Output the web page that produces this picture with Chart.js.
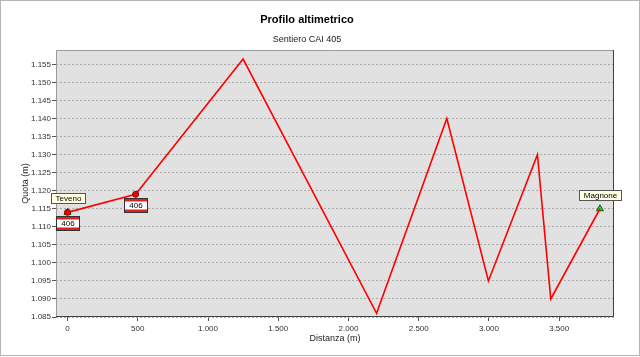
<!DOCTYPE html>
<html>
<head>
<meta charset="utf-8">
<script src="https://cdn.jsdelivr.net/npm/chart.js@4/dist/chart.umd.min.js"></script>
<style>
  html, body { margin: 0; padding: 0; background: #fff; }
  #wrap { width: 640px; height: 357px; position: relative; }
</style>
</head>
<body>
<div id="wrap"><canvas id="chartProfilo"></canvas></div>
<script>
// dati del profilo (distanza in m, quota in m)
const distanze = [0, 485, 1250, 2200, 2700, 2996, 3345, 3440, 3790];
const quote = [1114, 1119, 1156.5, 1086, 1140, 1095, 1130, 1090, 1115];
const tickDistanza = [0, 500, 1000, 1500, 2000, 2500, 3000, 3500];
const tickQuota = [1085, 1090, 1095, 1100, 1105, 1110, 1115, 1120, 1125, 1130, 1135, 1140, 1145, 1150, 1155];
// etichette località e segnavia
const localita = [{ idx: 0, nome: "Teveno" }, { idx: 8, nome: "Magnone" }];
const segnavia = [{ idx: 0, numero: "406" }, { idx: 1, numero: "406" }];

const fmt = (v) => String(v).replace(/\B(?=(\d{3})+(?!\d))/g, ".");
const FONT = "'Liberation Sans', Arial, sans-serif";

const punti = distanze.map((d, i) => ({ x: d, y: quote[i] }));
const triangoli = [0, 8].map((i) => ({ x: distanze[i], y: quote[i] }));

// sfondo area grafico, cornici ed etichette
const decorazioni = {
    id: "decorazioni",
    beforeDraw(chart) {
        const { ctx, chartArea: a } = chart;
        ctx.save();
        ctx.fillStyle = "#e1e1e1";
        ctx.fillRect(a.left, a.top, a.right - a.left, a.bottom - a.top);
        ctx.restore();
    },
    afterDraw(chart) {
        const { ctx, chartArea: a, scales } = chart;
        ctx.save();
        // cornice area grafico
        ctx.lineWidth = 1;
        ctx.strokeStyle = "#9a9a9a";
        ctx.beginPath();
        ctx.moveTo(a.left + 0.5, a.bottom);
        ctx.lineTo(a.left + 0.5, a.top + 0.5);
        ctx.lineTo(a.right, a.top + 0.5);
        ctx.stroke();
        ctx.strokeStyle = "#404040";
        ctx.beginPath();
        ctx.moveTo(a.right - 0.5, a.top);
        ctx.lineTo(a.right - 0.5, a.bottom - 0.5);
        ctx.lineTo(a.left, a.bottom - 0.5);
        ctx.stroke();
        // cornice esterna
        ctx.strokeStyle = "#b4b4b4";
        ctx.strokeRect(0.5, 0.5, 639, 355);

        ctx.font = "8px " + FONT;
        ctx.textAlign = "center";
        ctx.textBaseline = "middle";
        // segnavia 406
        segnavia.forEach((s) => {
            const px = scales.x.getPixelForValue(distanze[s.idx]);
            const py = scales.y.getPixelForValue(quote[s.idx]);
            const w = 23, h = 14;
            const l = Math.round(px - w / 2) + 0.5, t = Math.round(py + 4) + 0.5;
            ctx.fillStyle = "#fff";
            ctx.fillRect(l, t, w, h);
            ctx.fillStyle = "#e02020";
            ctx.fillRect(l, t, w, 3);
            ctx.fillRect(l, t + h - 3, w, 3);
            ctx.strokeStyle = "#333";
            ctx.strokeRect(l, t, w, h);
            ctx.fillStyle = "#000";
            ctx.fillText(s.numero, l + w / 2, t + h / 2 + 0.5);
        });
        // località
        localita.forEach((s) => {
            const px = scales.x.getPixelForValue(distanze[s.idx]);
            const py = scales.y.getPixelForValue(quote[s.idx]);
            const w = Math.ceil(ctx.measureText(s.nome).width) + 8, h = 10;
            const l = Math.round(px - w / 2) + 0.5, t = Math.round(py - 19) + 0.5;
            ctx.fillStyle = "#ffffe1";
            ctx.fillRect(l, t, w, h);
            ctx.strokeStyle = "#555";
            ctx.strokeRect(l, t, w, h);
            ctx.fillStyle = "#000";
            ctx.fillText(s.nome, l + w / 2, t + h / 2 + 0.5);
        });
        ctx.restore();
    }
};

const ctx = document.getElementById("chartProfilo").getContext("2d");
new Chart(ctx, {
    type: "line",
    plugins: [decorazioni],
    data: {
        datasets: [
            {
                label: "Profilo",
                data: punti,
                borderColor: "#ff0000",
                borderWidth: 1.6,
                tension: 0,
                pointStyle: "circle",
                pointRadius: distanze.map((d, i) => (i <= 1 ? 3 : 0)),
                pointBackgroundColor: "#ee0000",
                pointBorderColor: "#7a0000",
                pointBorderWidth: 1,
                order: 1
            },
            {
                label: "Estremi",
                data: triangoli,
                showLine: false,
                pointStyle: "triangle",
                pointRadius: 4,
                pointBackgroundColor: "#33cc33",
                pointBorderColor: "#1a5a1a",
                pointBorderWidth: 1,
                order: 2
            }
        ]
    },
    options: {
        responsive: true,
        maintainAspectRatio: false,
        animation: false,
        layout: { padding: { left: 0, right: 26, top: 0, bottom: 0 } },
        plugins: {
            legend: { display: false },
            tooltip: { enabled: false },
            title: {
                display: true,
                text: "Profilo altimetrico",
                color: "#000",
                font: { family: FONT, size: 11, weight: "bold" },
                padding: { top: 13, bottom: 8 }
            },
            subtitle: {
                display: true,
                text: "Sentiero CAI 405",
                color: "#222",
                font: { family: FONT, size: 9 },
                padding: { top: 0, bottom: 5 }
            }
        },
        scales: {
            x: {
                type: "linear",
                min: -82,
                max: 3890,
                afterFit: (scale) => { scale.height = 40; },
                afterBuildTicks: (scale) => { scale.ticks = tickDistanza.map((v) => ({ value: v })); },
                grid: { drawOnChartArea: false, drawTicks: true, tickLength: 4, tickColor: "#555" },
                border: { display: false },
                ticks: {
                    color: "#333",
                    padding: 3,
                    maxRotation: 0,
                    font: { family: FONT, size: 8 },
                    callback: (v) => fmt(v)
                },
                title: {
                    display: true,
                    text: "Distanza (m)",
                    color: "#222",
                    font: { family: FONT, size: 9 },
                    padding: { top: 0, bottom: 13 }
                }
            },
            y: {
                type: "linear",
                min: 1085,
                max: 1159,
                afterFit: (scale) => { scale.width = 56; },
                afterBuildTicks: (scale) => { scale.ticks = tickQuota.map((v) => ({ value: v })); },
                grid: {
                    color: "#ababab",
                    tickBorderDash: [],
                    tickLength: 4,
                    tickColor: "#555",
                    drawTicks: true
                },
                border: { display: false, dash: [2, 2] },
                ticks: {
                    color: "#333",
                    padding: 1,
                    font: { family: FONT, size: 8 },
                    callback: (v) => fmt(v)
                },
                title: {
                    display: true,
                    text: "Quota (m)",
                    color: "#222",
                    font: { family: FONT, size: 9 },
                    padding: { top: 20, bottom: 0 }
                }
            }
        }
    }
});
</script>
</body>
</html>
